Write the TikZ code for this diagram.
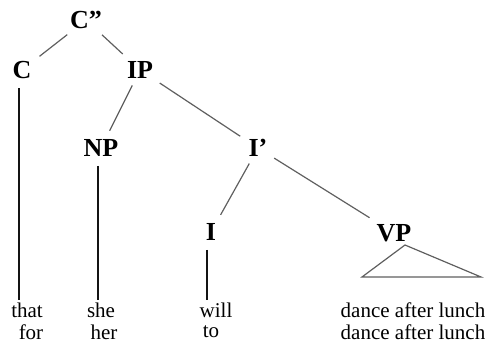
\documentclass[tikz,border=0pt]{standalone}
\usepackage{fontspec}
\setmainfont{Liberation Serif}
\usepackage{tikz}
\usetikzlibrary{positioning,calc}
\definecolor{branch}{RGB}{95,95,95}
\definecolor{stem}{RGB}{20,20,20}

\tikzset{
  cat/.style={font=\fontsize{13}{15}\selectfont\bfseries,inner sep=1.5pt},
  word/.style={font=\fontsize{10.5}{12}\selectfont,inner sep=1pt},
  edge/.style={draw=branch,line width=0.6pt,shorten <=2pt,shorten >=3pt},
  stemline/.style={draw=stem,line width=0.6pt}
}

\begin{document}
\begin{tikzpicture}[x=0.5pt,y=-0.5pt]
        \useasboundingbox (0,0) rectangle (489,342);
        % categories
        \node[cat] (cpp) at (86,20) {C''};
        \node[cat] (c) at (22,70) {C};
        \node[cat] (ip) at (140,70) {IP};
        \node[cat] (np) at (101,148) {NP};
        \node[cat] (ibar) at (258,148) {I'};
        \node[cat] (i) at (211,232) {I};
        \node[cat] (vp) at (394,233) {VP};
        % words
        \node[word] (that) at (27,310) {that};
        \node[word] (for) at (31,332) {for};
        \node[word] (she) at (101,310) {she};
        \node[word] (her) at (104,332) {her};
        \node[word] (will) at (216,310) {will};
        \node[word] (to) at (211,332) {to};
        \node[word] (dal1) at (413,310) {dance after lunch};
        \node[word] (dal2) at (413,332) {dance after lunch};
        % branches
        \draw[edge] (cpp) -- (c);
        \draw[edge] (cpp) -- (ip);
        \draw[edge] (ip) -- (np);
        \draw[edge] (ip) -- (ibar);
        \draw[edge] (ibar) -- (i);
        \draw[edge] (ibar) -- (vp);
        % stems down to the words
        \coordinate (cstem) at ($(c.south)+(-3,6)$);
        \coordinate (npstem) at ($(np.south)+(-3,6)$);
        \coordinate (istem) at ($(i.south)+(-4,6)$);
        \draw[stemline] (cstem) -- (cstem |- that.north);
        \draw[stemline] (npstem) -- (npstem |- she.north);
        \draw[stemline] (istem) -- (istem |- will.north);
        % triangle under VP
        \coordinate (top) at (405,245);
        \coordinate (lft) at (362,277);
        \coordinate (rgt) at (481,277);
        \draw[edge,shorten <=0pt,shorten >=0pt] (top) -- (lft) -- (rgt) -- cycle;
      \end{tikzpicture}
\end{document}
